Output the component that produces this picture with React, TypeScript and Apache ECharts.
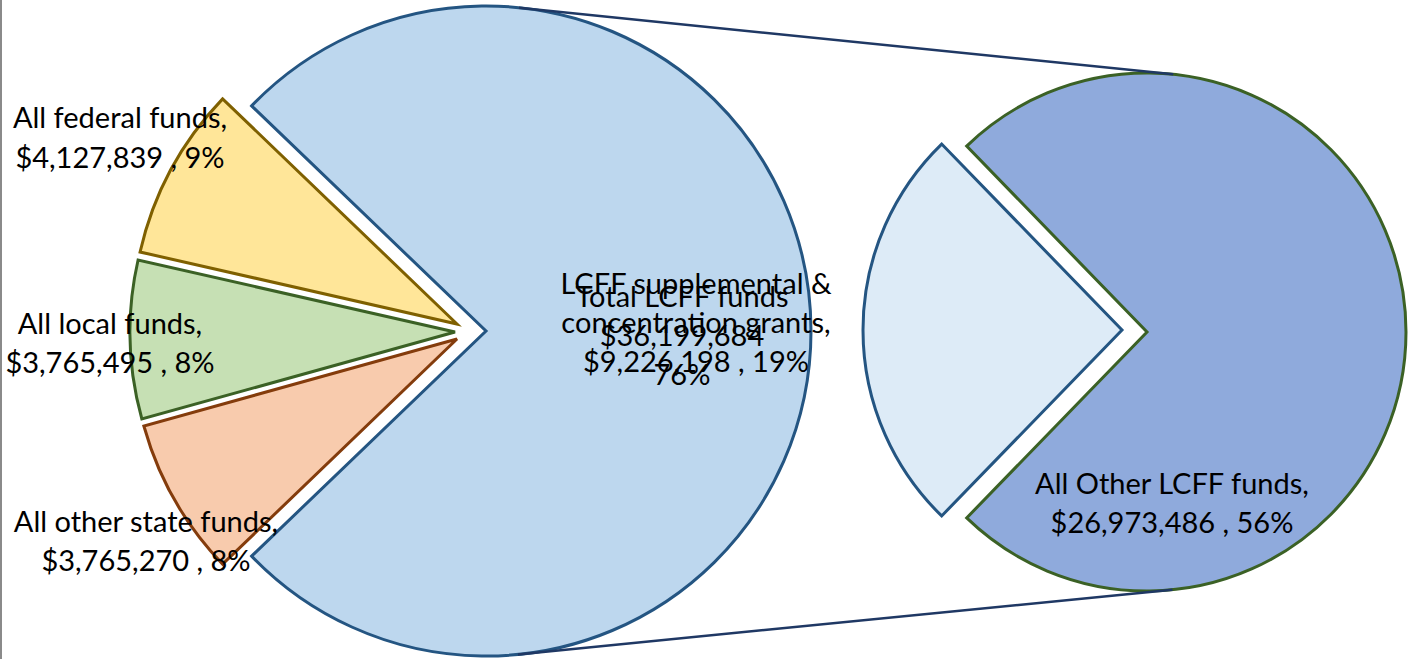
import React, { useEffect, useRef } from "react";
import * as echarts from "echarts";

// ---------- data ----------
const primaryNames = ["All federal funds", "All local funds", "All other state funds"];
const primaryValues = [4127839, 3765495, 3765270];
const otherName = "Total LCFF funds";
const secondaryNames = ["LCFF supplemental & concentration grants", "All Other LCFF funds"];
const secondaryValues = [9226198, 26973486];

// ---------- styles / layout ----------
const W = 1411;
const H = 659;
const FONT = "Lato";
const FONT_SIZE = 29;
const primaryFill = ["#FFE699", "#C6E0B4", "#F8CBAD"];
const primaryStroke = ["#7F6000", "#3B6125", "#843C0C"];
const otherFill = "#BDD7EE";
const otherStroke = "#245582";
const secondaryFill = ["#DDEBF7", "#8FAADC"];
const secondaryStroke = ["#245582", "#3B6125"];
const connectorColor = "#1F3864";

const leftCenter = [486, 331];
const leftR = 325;
const primaryCenters = [
  [457, 324],
  [455, 332],
  [457, 339],
];
const rightCenter = [1147, 332];
const rightLightCenter = [1122, 330];
const rightR = 259;

// label block anchors (center x, center y, line height)
const primaryLabelPos = [
  [120, 136, 40],
  [110, 342, 39],
  [146, 540, 39],
];
const otherLabelPos = [682, 334, 39];
const secondaryLabelPos = [
  [696, 321, 39],
  [1172, 502, 39],
];

const sum = (a: number[]) => a.reduce((s, v) => s + v, 0);
const fmt = (v: number) => v.toLocaleString("en-US");

export default function App() {
  const ref = useRef<HTMLDivElement>(null);

  useEffect(() => {
    document.body.style.margin = "0";
    if (!ref.current) return;
    const chart = echarts.init(ref.current, undefined, { renderer: "svg" });

    const lcffTotal = sum(secondaryValues);
    const total = sum(primaryValues) + lcffTotal;
    const pct = (v: number) => Math.round((v / total) * 100);

    // left pie items, clockwise from the upper-left edge of the big slice
    const leftItems = [
      { name: otherName, value: lcffTotal, fill: otherFill, stroke: otherStroke },
      ...[2, 1, 0].map((i) => ({
        name: primaryNames[i],
        value: primaryValues[i],
        fill: primaryFill[i],
        stroke: primaryStroke[i],
      })),
    ];
    const leftStart = 180 - ((sum(primaryValues) / total) * 360) / 2;

    // right pie items: big dark slice first, then light slice on the left
    const rightItems = [1, 0].map((i) => ({
      name: secondaryNames[i],
      value: secondaryValues[i],
      fill: secondaryFill[i],
      stroke: secondaryStroke[i],
    }));
    const rightStart = 180 - ((secondaryValues[0] / lcffTotal) * 360) / 2;

    const pie = (center: number[], r: number, items: any[], showIdx: number, startAngle: number) => ({
      type: "pie",
      center,
      radius: r,
      startAngle,
      clockwise: true,
      silent: true,
      avoidLabelOverlap: false,
      label: { show: false },
      labelLine: { show: false },
      emphasis: { disabled: true },
      data: items.map((it, i) => ({
        name: it.name,
        value: it.value,
        itemStyle:
          i === showIdx
            ? {
                color: it.fill,
                borderColor: it.stroke,
                borderWidth: 3,
                borderJoin: "miter",
                borderMiterLimit: 10,
              }
            : { color: "rgba(0,0,0,0)", borderWidth: 0 },
      })),
    });

    const series: any[] = [
      pie(leftCenter, leftR, leftItems, 0, leftStart),
      // primary small slices, each exploded
      ...[0, 1, 2].map((i) => pie(primaryCenters[i], leftR, leftItems, 3 - i, leftStart)),
      pie(rightCenter, rightR, rightItems, 0, rightStart),
      pie(rightLightCenter, rightR, rightItems, 1, rightStart),
    ];

    // external tangents between the two pies
    const dx = rightCenter[0] - leftCenter[0];
    const dy = rightCenter[1] - leftCenter[1];
    const d = Math.hypot(dx, dy);
    const base = Math.atan2(dy, dx);
    const phi = Math.acos((leftR - rightR) / d);
    const tangent = (sign: number) => {
      const a = base + sign * phi;
      const nx = Math.cos(a);
      const ny = Math.sin(a);
      return {
        x1: leftCenter[0] + leftR * nx,
        y1: leftCenter[1] + leftR * ny,
        x2: rightCenter[0] + rightR * nx,
        y2: rightCenter[1] + rightR * ny,
      };
    };

    const textEl = (text: string, x: number, y: number, lh: number) => ({
      type: "text",
      silent: true,
      z: 100,
      style: {
        text,
        x,
        y,
        fill: "#000000",
        fontSize: FONT_SIZE,
        fontFamily: FONT,
        lineHeight: lh,
        align: "center",
        verticalAlign: "middle",
        textAlign: "center",
        textVerticalAlign: "middle",
      },
    });

    const graphics: any[] = [
      {
        type: "line",
        silent: true,
        shape: { x1: 1, y1: 0, x2: 1, y2: H },
        style: { stroke: "#8a8a8a", lineWidth: 2 },
      },
      {
        type: "line",
        silent: true,
        z: 50,
        shape: tangent(-1),
        style: { stroke: connectorColor, lineWidth: 2.5 },
      },
      {
        type: "line",
        silent: true,
        z: 50,
        shape: tangent(1),
        style: { stroke: connectorColor, lineWidth: 2.5 },
      },
      ...primaryNames.map((n, i) =>
        textEl(
          `${n},\n$${fmt(primaryValues[i])} , ${pct(primaryValues[i])}%`,
          primaryLabelPos[i][0],
          primaryLabelPos[i][1],
          primaryLabelPos[i][2]
        )
      ),
      textEl(
        `${otherName}\n$${fmt(lcffTotal)}\n${pct(lcffTotal)}%`,
        otherLabelPos[0],
        otherLabelPos[1],
        otherLabelPos[2]
      ),
      textEl(
        `LCFF supplemental &\nconcentration grants,\n$${fmt(secondaryValues[0])} , ${pct(secondaryValues[0])}%`,
        secondaryLabelPos[0][0],
        secondaryLabelPos[0][1],
        secondaryLabelPos[0][2]
      ),
      textEl(
        `${secondaryNames[1]},\n$${fmt(secondaryValues[1])} , ${pct(secondaryValues[1])}%`,
        secondaryLabelPos[1][0],
        secondaryLabelPos[1][1],
        secondaryLabelPos[1][2]
      ),
    ];

    chart.setOption({
      animation: false,
      backgroundColor: "#ffffff",
      series,
      graphic: { elements: graphics },
    });

    return () => chart.dispose();
  }, []);

  return <div ref={ref} style={{ width: W, height: H }} />;
}
